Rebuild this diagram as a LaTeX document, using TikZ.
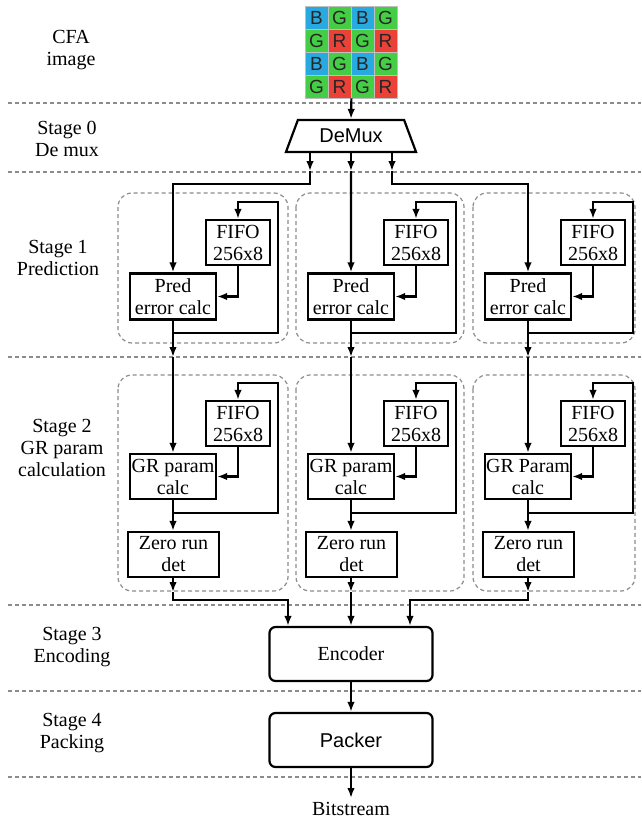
\documentclass[tikz,border=0pt]{standalone}
\usepackage{fontspec}
\setmainfont{Liberation Serif}
\setsansfont{Liberation Sans}
\usetikzlibrary{arrows.meta,positioning,shapes.geometric,calc}
\definecolor{cfablue}{RGB}{40,170,225}
\definecolor{cfagreen}{RGB}{70,205,70}
\definecolor{cfared}{RGB}{235,65,55}
\definecolor{sepgray}{RGB}{140,140,140}
\tikzset{
  >={Latex[length=10pt,width=7.5pt]},
  txt/.style={font=\fontsize{20}{22}\selectfont,align=center,inner sep=0pt},
  sanstxt/.style={font=\sffamily\fontsize{20}{22}\selectfont,align=center,inner sep=0pt},
  blk/.style={draw,line width=2.2pt,txt,minimum width=#1,minimum height=46pt},
  blk/.default=86pt,
  fifo/.style={blk=64pt,minimum height=45pt},
  unit/.style={draw,line width=2.2pt,rounded corners=6pt,minimum width=163pt,minimum height=54pt},
  flow/.style={->,line width=2.2pt},
  sep/.style={draw=sepgray,line width=1.2pt,dash pattern=on 4pt off 3pt},
  group/.style={draw=sepgray,line width=1.2pt,dash pattern=on 4pt off 3pt,rounded corners=14pt},
  cell/.style={draw=gray!50,line width=0.8pt,fill=#1,minimum size=23pt,inner sep=0pt,
    font=\sffamily\fontsize{19}{19}\selectfont,text=black!85},
}

\begin{document}
\begin{tikzpicture}[x=1pt,y=-1pt]
  \useasboundingbox (0,0) rectangle (641,820);
  \foreach \y in {103,172,357,605,691,777}
    \draw[sep] (8,\y) -- (641,\y);

  % stage labels
  \node[txt] (lblcfa) at (71,50) {CFA\\image};
  \node[txt] (lbl0) at (67,139) {Stage 0\\De mux};
  \node[txt] (lbl1) at (58,258) {Stage 1\\Prediction};
  \node[txt] (lbl2) at (62,448) {Stage 2\\GR param\\calculation};
  \node[txt] (lbl3) at (72,647) {Stage 3\\Encoding};
  \node[txt] (lbl4) at (72,733) {Stage 4\\Packing};

  % bayer pattern
  \foreach \r in {0,...,3}{
    \foreach \c in {0,...,3}{
      \pgfmathtruncatemacro{\k}{mod(\r,2)+mod(\c,2)}
      \ifcase\k \def\ltr{B}\def\clr{cfablue}\or \def\ltr{G}\def\clr{cfagreen}\or \def\ltr{R}\def\clr{cfared}\fi
      \node[cell=\clr] (cfa\r\c) at (316.5+23*\c,17.5+23*\r) {\ltr};
    }
  }

  \node[trapezium,draw,line width=2.2pt,trapezium angle=63,trapezium stretches=true,
    minimum width=131pt,minimum height=32pt,sanstxt] (demux) at (351,136) {DeMux};
  \draw[flow] (cfa31.south east) -- (demux.north);
  \foreach \dx/\c in {-41/A,0/B,41/C}
    \draw[flow] ($(demux.south)+(\dx,0)$) -- ++(0,18) coordinate (dm\c);

  \foreach \c/\cx/\gw/\gr in {A/173/115/GR param,B/351/113/GR param,C/528/107/GR Param}{
    \draw[group] (\cx-55,193) rectangle (\cx+\gw,343);
    \draw[group] (\cx-55,375) rectangle (\cx+\gw,591);
    % prediction
    \node[blk] (pred\c) at (\cx,296.5) {Pred\\error calc};
    \node[fifo] (fifoP\c) at (\cx+65,242.5) {FIFO\\256x8};
    \coordinate (tapP\c) at (\cx,333);
    \coordinate (turnP\c) at (\cx+105,202);
    \draw[flow] (tapP\c) -| (turnP\c) -| (fifoP\c.north);
    \draw[flow] (fifoP\c.south) |- (pred\c.east);
    \draw[flow] (pred\c.south) -- (\cx,357) coordinate (midP\c);
    % GR parameter
    \node[blk,minimum height=45pt] (gr\c) at (\cx,476.5) {\gr\\calc};
    \node[fifo] (fifoG\c) at (\cx+65,423.5) {FIFO\\256x8};
    \node[blk=91pt,minimum height=45pt] (zero\c) at (\cx+0.5,554.5) {Zero run\\det};
    \coordinate (tapG\c) at (\cx,513);
    \coordinate (turnG\c) at (\cx+105,383);
    \draw[flow] (midP\c) -- (gr\c.north);
    \draw[flow] (gr\c.south) -- (gr\c.south |- zero\c.north);
    \draw[flow] (tapG\c) -| (turnG\c) -| (fifoG\c.north);
    \draw[flow] (fifoG\c.south) |- (gr\c.east);
    \draw[flow] (gr\c.south |- zero\c.south) -- (\cx,592) coordinate (out\c);
  }
  \draw[flow] (dmA) -- ++(0,13) -| (predA.north);
  \draw[flow] (dmB) -- (predB.north);
  \draw[flow] (dmC) -- ++(0,13) -| (predC.north);

  \node[unit,txt] (enc) at (351,654) {Encoder};
  \node[unit,sanstxt] (pack) at (351,740) {Packer};
  \draw[flow] (outA) -- ++(0,8) -| ($(enc.north)+(-63,0)$);
  \draw[flow] (outB) -- (enc.north);
  \draw[flow] (outC) -- ++(0,8) -| ($(enc.north)+(59,0)$);
  \draw[flow] (enc) -- (pack);
  \node[txt,anchor=north] (bits) at (351,802) {Bitstream};
  \draw[flow,shorten >=4pt] (pack) -- (bits);
\end{tikzpicture}
\end{document}
